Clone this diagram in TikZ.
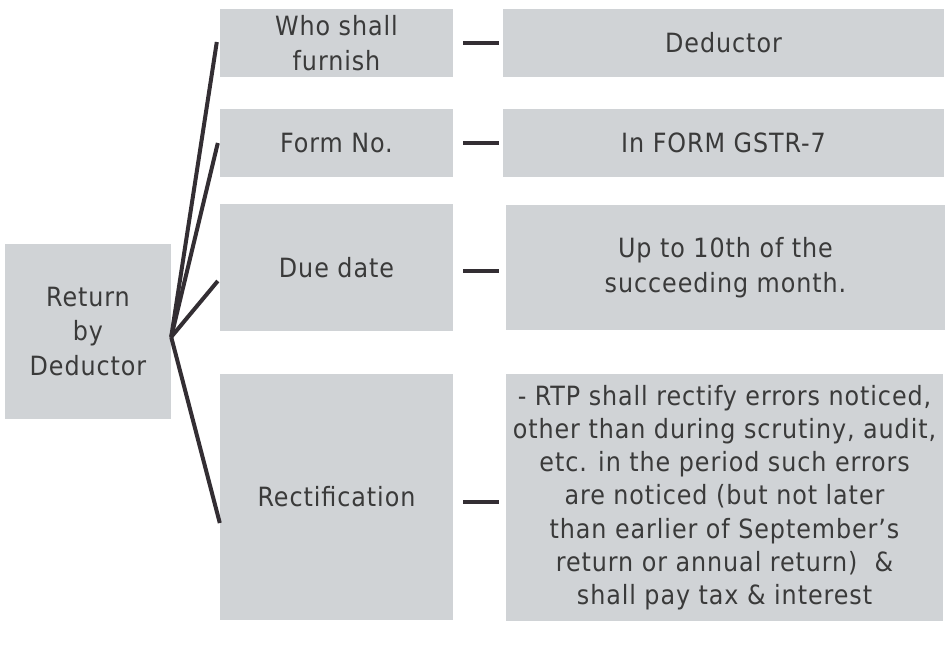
\documentclass[tikz,border=0pt]{standalone}
\usepackage{fontspec}
\setmainfont[LetterSpace=3.5]{DejaVu Sans Condensed}
\definecolor{boxgrey}{HTML}{D0D3D6}
\definecolor{inkgrey}{HTML}{3A3A3A}
\definecolor{linegrey}{HTML}{332E33}

\begin{document}
\begin{tikzpicture}[x=1pt,y=-1pt,
  box/.style={fill=boxgrey,text=inkgrey,align=center,inner sep=0pt,
    font=\fontsize{26.5}{34.5}\selectfont},
  branch/.style={draw=linegrey,line width=4pt},
  dashline/.style={draw=linegrey,line width=3.5pt}]
  \useasboundingbox (0,0) rectangle (952,647);

  % Root
  \node[box,minimum width=166pt,minimum height=175pt] (root) at (88,331.5) {Return\\by\\Deductor};

  % Headings
  \node[box,minimum width=233pt,minimum height=68pt] (who) at (336.5,43) {Who shall\\furnish};
  \node[box,minimum width=233pt,minimum height=68pt] (form) at (336.5,143) {Form No.};
  \node[box,minimum width=233pt,minimum height=127pt] (due) at (336.5,267.5) {Due date};
  \node[box,minimum width=233pt,minimum height=246pt] (rect) at (336.5,497) {Rectification};

  % Details
  \node[box,minimum width=441pt,minimum height=68pt] (ded) at (723.5,43) {Deductor};
  \node[box,minimum width=441pt,minimum height=68pt] (gstr) at (723.5,143) {In FORM GSTR-7};
  \node[box,minimum width=439pt,minimum height=125pt] (upto) at (725.5,267.5) {Up to 10th of the\\succeeding month.};
  \node[box,minimum width=437pt,minimum height=247pt,font=\fontsize{26.5}{33.2}\selectfont] (rtext) at (724.5,497.5)
    {- RTP shall rectify errors noticed,\\other than during scrutiny, audit,\\etc. in the period such errors\\are noticed (but not later\\than earlier of September’s\\return or annual return)~~\&\\shall pay tax \& interest};

  \coordinate (hub) at ([yshift=-5.5pt]root.east);

  \draw[branch] (hub) -- ([xshift=-3pt,yshift=1pt]who.west);
  \draw[branch] (hub) -- ([xshift=-2pt]form.west);
  \draw[branch] (hub) -- ([xshift=-2pt,yshift=-13.5pt]due.west);
  \draw[branch] (hub) -- ([yshift=-26pt]rect.west);

  \draw[dashline] ([xshift=10pt]who.east) -- ([xshift=-4pt]ded.west);
  \draw[dashline] ([xshift=10pt]form.east) -- ([xshift=-4pt]gstr.west);
  \draw[dashline] ([xshift=10pt,yshift=-3.5pt]due.east) -- ([xshift=-7pt,yshift=-3.5pt]upto.west);
  \draw[dashline] ([xshift=10pt,yshift=-5pt]rect.east) -- ([xshift=-7pt,yshift=-4.5pt]rtext.west);
\end{tikzpicture}
\end{document}
